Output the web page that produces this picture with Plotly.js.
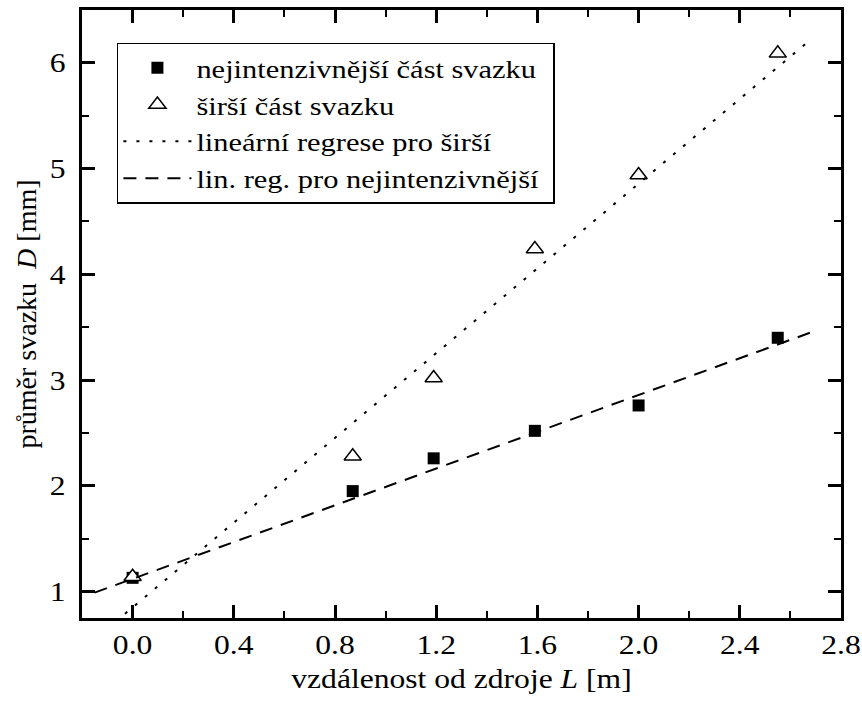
<!DOCTYPE html>
<html>
<head>
<meta charset="utf-8">
<script src="https://cdn.plot.ly/plotly-3.0.1.min.js"></script>
<style>html,body{margin:0;padding:0;background:#fff;}#chart{width:862px;height:704px;}</style>
</head>
<body>
<div id="chart"></div>
<script>
// Data
const distL = [0.0, 0.87, 1.19, 1.59, 2.0, 2.55];
const dIntense = [1.13, 1.95, 2.26, 2.52, 2.76, 3.40];
const dWide = [1.14, 2.28, 3.02, 4.24, 4.94, 6.09];
// regression line endpoints as drawn
const regWideX = [-0.03, 2.68];
const regWideY = [0.79, 6.22];
const regIntX = [-0.15, 2.68];
const regIntY = [0.99, 3.45];

const names = ['nejintenzivnější část svazku', 'širší část svazku',
  'lineární regrese pro širší', 'lin. reg. pro nejintenzivnější'];
const xTicks = [0.0, 0.4, 0.8, 1.2, 1.6, 2.0, 2.4, 2.8];
const xTickText = ['0.0', '0.4', '0.8', '1.2', '1.6', '2.0', '2.4', '2.8'];
const yTicks = [1, 2, 3, 4, 5, 6];

const FONT = '"Liberation Serif"';
const STRETCH = 1.17; // the reference text is drawn horizontally widened

const traces = [
  {x: distL, y: dIntense, mode: 'markers', name: names[0],
   marker: {symbol: 'square', size: 12, color: '#000'}},
  {x: distL, y: dWide, mode: 'markers', name: names[1],
   marker: {symbol: 'triangle-up', size: 15, color: '#fff', line: {color: '#000', width: 1.5}}},
  {x: regWideX, y: regWideY, mode: 'lines', name: names[2],
   line: {color: '#000', width: 2, dash: '3px,10px'}},
  {x: regIntX, y: regIntY, mode: 'lines', name: names[3],
   line: {color: '#000', width: 2, dash: '13px,9px'}}
];

const axisCommon = {
  showgrid: false, zeroline: false, showline: true, linecolor: '#000', linewidth: 3,
  mirror: 'ticks', ticks: 'inside', ticklen: 13, tickwidth: 3, tickcolor: '#000',
  tickfont: {family: FONT, size: 27, color: '#000'}
};

const layout = {
  width: 862, height: 704,
  margin: {l: 82, r: 21, t: 10, b: 86},
  paper_bgcolor: '#fff', plot_bgcolor: '#fff',
  font: {family: FONT, color: '#000'},
  showlegend: true,
  legend: {x: 0.046, y: 0.946, xanchor: 'left', yanchor: 'top',
    bgcolor: '#fff', bordercolor: '#000', borderwidth: 1.5,
    font: {family: FONT, size: 26, color: '#000'},
    itemwidth: 68, traceorder: 'normal'},
  xaxis: Object.assign({}, axisCommon, {
    range: [-0.2, 2.8], tickmode: 'array', tickvals: xTicks, ticktext: xTickText,
    ticklabelstandoff: 1,
    minor: {dtick: 0.2, ticklen: 7, tickwidth: 2, tickcolor: '#000', ticks: 'inside'},
    title: {text: 'vzdálenost od zdroje <i>L</i> [m]', font: {family: FONT, size: 27, color: '#000'}, standoff: 10}
  }),
  yaxis: Object.assign({}, axisCommon, {
    range: [0.75, 6.5], tickmode: 'array', tickvals: yTicks,
    ticklabelstandoff: 8,
    minor: {dtick: 0.5, tick0: 0, ticklen: 7, tickwidth: 2, tickcolor: '#000', ticks: 'inside'},
    title: {text: 'průměr svazku  <i>D</i> [mm]', font: {family: FONT, size: 28, color: '#000'}, standoff: 8}
  })
};

Plotly.newPlot('chart', traces, layout, {staticPlot: true, displayModeBar: false}).then(function (gd) {
  // widen horizontal text like the reference
  const texts = gd.querySelectorAll('.xtick text, .ytick text, .legendtext, .g-xtitle text');
  texts.forEach(function (t) {
    const w = t.getComputedTextLength();
    t.setAttribute('textLength', (w * STRETCH).toFixed(2));
    t.setAttribute('lengthAdjust', 'spacingAndGlyphs');
  });
  // enlarge legend box to fit widened text
  const leg = gd.querySelector('.legend');
  if (leg) {
    let maxRight = 0;
    leg.querySelectorAll('.legendtext').forEach(function (t) {
      const x = parseFloat(t.getAttribute('x')) || 0;
      const w = t.getComputedTextLength();
      maxRight = Math.max(maxRight, x + w);
    });
    const newW = maxRight + 16;
    const bg = leg.querySelector('rect.bg');
    if (bg) bg.setAttribute('width', newW);
    const sb = leg.querySelector('.scrollbox');
    if (sb) {
      const cp = sb.getAttribute('clip-path');
      const m = cp && cp.match(/#([^)'"]+)/);
      if (m) {
        const r = document.getElementById(m[1]);
        if (r) { const rr = r.querySelector('rect') || r; rr.setAttribute('width', newW); }
      }
    }
  }
});
</script>
</body>
</html>
